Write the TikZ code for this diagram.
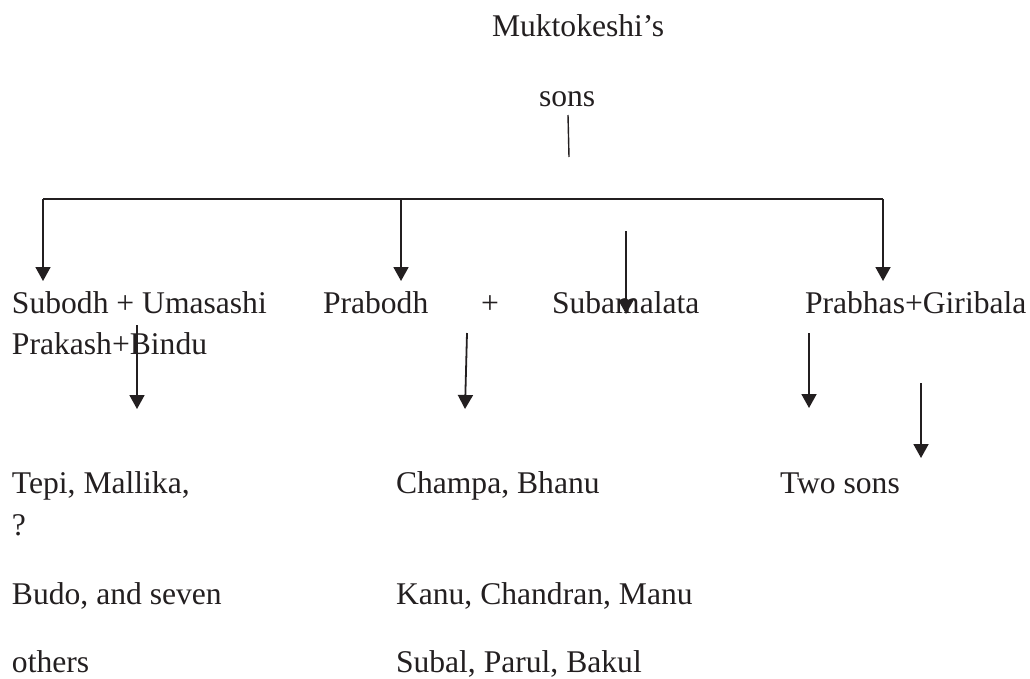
\documentclass[tikz,border=0pt]{standalone}
\usepackage{fontspec}
\setmainfont{Liberation Serif}
\usetikzlibrary{arrows.meta}
\definecolor{ink}{HTML}{231F20}
\begin{document}
\begin{tikzpicture}[x=1pt,y=-1pt,
  lbl/.style={anchor=base west,inner sep=0pt,outer sep=0pt,text=ink,font=\fontsize{31.6}{38}\selectfont},
  conn/.style={draw=ink,line width=1.4pt},
  arr/.style={draw=ink,line width=1.8pt,-{Triangle[width=15pt,length=14pt]}}]
\useasboundingbox (0,0) rectangle (1030,678);
% texts
\node[lbl] (muk) at (492,36) {Muktokeshi’s};
\node[lbl] (sons) at (539,106) {sons};
\node[lbl] (subodh) at (12,313) {Subodh + Umasashi};
\node[lbl] (prakash) at (12,354) {Prakash+Bindu};
\node[lbl] (prabodh) at (323,313) {Prabodh};
\node[lbl] (plus) at (481,313) {+};
\node[lbl] (subama) at (552,313) {Subamalata};
\node[lbl] (prabhas) at (805,313) {Prabhas+Giribala};
\node[lbl] (tepi) at (12,493) {Tepi, Mallika,};
\node[lbl] (q) at (12,535) {?};
\node[lbl] (budo) at (12,604) {Budo, and seven};
\node[lbl] (others) at (12,672) {others};
\node[lbl] (champa) at (396,493) {Champa, Bhanu};
\node[lbl] (kanu) at (396,604) {Kanu, Chandran, Manu};
\node[lbl] (subal) at (396,672) {Subal, Parul, Bakul};
\node[lbl] (twosons) at (780,493) {Two sons};
% coordinates
\coordinate (s1) at (568,115);
\coordinate (s2) at (569,157);
\coordinate (hl) at (43,199);
\coordinate (hm) at (401,199);
\coordinate (hr) at (883,199);
\coordinate (t1) at (43,281);
\coordinate (t2) at (401,281);
\coordinate (t4) at (883,281);
\coordinate (a3s) at (626,231);
\coordinate (a3e) at (626,314);
\coordinate (a5s) at (137,325);
\coordinate (a5e) at (137,409);
\coordinate (a6s) at (467,333);
\coordinate (a6e) at (465,409);
\coordinate (a7s) at (809,333);
\coordinate (a7e) at (809,408);
\coordinate (a8s) at (921,383);
\coordinate (a8e) at (921,458);
% connectors
\draw[conn] (s1) -- (s2);
\draw[conn] (hl) -- (hr);
\draw[arr] (hl) -- (t1);
\draw[arr] (hm) -- (t2);
\draw[arr] (hr) -- (t4);
\draw[arr] (a3s) -- (a3e);
\draw[arr] (a5s) -- (a5e);
\draw[arr] (a6s) -- (a6e);
\draw[arr] (a7s) -- (a7e);
\draw[arr] (a8s) -- (a8e);
\end{tikzpicture}
\end{document}
